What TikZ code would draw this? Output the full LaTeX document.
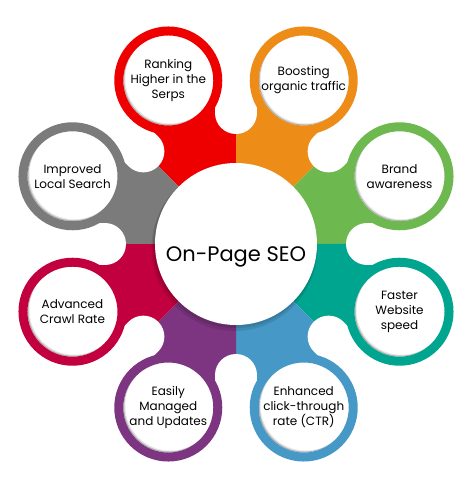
\documentclass[tikz,border=0pt]{standalone}
\usepackage{fontspec}
\setmainfont{Poppins}
\usetikzlibrary{calc}
\definecolor{rankred}{HTML}{EE0000}
\definecolor{boostorange}{HTML}{EE8C18}
\definecolor{brandgreen}{HTML}{6DB84F}
\definecolor{speedteal}{HTML}{00A590}
\definecolor{ctrblue}{HTML}{4699C6}
\definecolor{easypurple}{HTML}{7D3581}
\definecolor{crawlcrimson}{HTML}{C2003F}
\definecolor{localgray}{HTML}{7B7B7B}
\tikzstyle{satstyle}=[circle, fill=white, line width=9pt, minimum size=99pt, inner sep=0pt, align=center, font=\fontsize{12}{15}\selectfont,
  path picture={
    \fill [black!30] (path picture bounding box.center) circle (45);
    \fill [black!10] ([shift={(1,1)}]path picture bounding box.center) circle (45);
    \fill [white] ([shift={(2,2)}]path picture bounding box.center) circle (45);
  }]
\tikzstyle{notchstyle}=[draw=white, line width=42pt, line cap=round]
\tikzstyle{hubstyle}=[circle, fill=white, minimum size=162pt, inner sep=0pt]
\newcommand{\seowedge}[2]{\fill [#2] (c) -- ++(#1:141pt) arc [start angle=#1, delta angle=45, radius=141pt] -- cycle;}
\newcommand{\seonotch}[1]{\draw [notchstyle] (c) ++(#1:131pt) -- ++(#1:120pt);}
\newcommand{\seosat}[4]{\node [satstyle, draw=#3] (#1) at ($(c)+(#2:177pt)$) {#4};}

\begin{document}
\begin{tikzpicture}[x=1pt, y=1pt]
\useasboundingbox (0,0) rectangle (471,477);
\coordinate (c) at (236,233);
% coloured sectors
\seowedge{90}{rankred}
\seowedge{45}{boostorange}
\seowedge{0}{brandgreen}
\seowedge{315}{speedteal}
\seowedge{270}{ctrblue}
\seowedge{225}{easypurple}
\seowedge{180}{crawlcrimson}
\seowedge{135}{localgray}
% white gaps between the necks
\seonotch{0} \seonotch{45} \seonotch{90} \seonotch{135}
\seonotch{180} \seonotch{225} \seonotch{270} \seonotch{315}
% outer circles
\seosat{rank}{112.5}{rankred}{Ranking\\Higher in the\\Serps}
\seosat{boost}{67.5}{boostorange}{Boosting\\organic traffic}
\seosat{brand}{22.5}{brandgreen}{Brand\\awareness}
\seosat{speed}{-22.5}{speedteal}{Faster\\Website\\speed}
\seosat{ctr}{-67.5}{ctrblue}{Enhanced\\click-through\\rate (CTR)}
\seosat{easy}{-112.5}{easypurple}{Easily\\Managed\\and Updates}
\seosat{crawl}{202.5}{crawlcrimson}{Advanced\\Crawl Rate}
\seosat{local}{157.5}{localgray}{Improved\\Local Search}
% centre with its shadow
\fill [black, opacity=.1] ([shift={(-1.5,-4)}]c) circle (83);
\fill [black, opacity=.1] ([shift={(-1,-2)}]c) circle (82);
\node [hubstyle] (hub) at (c) {};
\node [font=\fontsize{21}{25}\selectfont] (seo) at ([yshift=-13pt]c) {On-Page SEO};
\end{tikzpicture}
\end{document}
